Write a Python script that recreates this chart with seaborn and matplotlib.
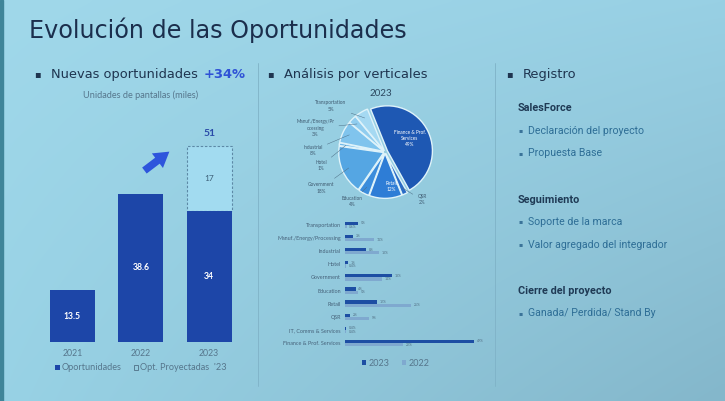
import numpy as np
import pandas as pd
import matplotlib
matplotlib.use("Agg")
import matplotlib.pyplot as plt
import seaborn as sns
from matplotlib.patches import Patch, Rectangle

# ---------------- data ----------------
years = ["2021", "2022", "2023"]
oportunidades = [13.5, 38.6, 34]
proyectadas = [0, 0, 17]

pie_labels = ["Finance & Prof.\nServices", "QSR", "Retail", "Education", "Government",
              "Hotel", "Industrial", "Manuf./Energy/Pr\nocessing", "Transportation"]
pie_share = [49, 2, 12, 4, 18, 1, 8, 3, 5]

verticals = ["Transportation", "Manuf./Energy/Processing", "Industrial", "Hotel",
             "Government", "Education", "Retail", "QSR", "IT, Comms & Services",
             "Finance & Prof. Services"]
share_2023 = [5, 3, 8, 1, 18, 4, 12, 2, 0.4, 49]
share_2022 = [0.6, 11, 13, 0.4, 14, 5, 25, 9, 0.4, 22]

registro = [
    ("SalesForce", ["Declaración del proyecto", "Propuesta Base"]),
    ("Seguimiento", ["Soporte de la marca", "Valor agregado del integrador"]),
    ("Cierre del proyecto", ["Ganada/ Perdida/ Stand By"]),
]

# ---------------- style ----------------
sns.set_theme(style="white")
plt.rcParams["font.family"] = ["Lato", "DejaVu Sans"]
HEAD_FONT = ["DejaVu Sans"]
BODY_FONT = ["Roboto", "DejaVu Sans"]

W, H = 725, 401
fig = plt.figure(figsize=(W / 100, H / 100), dpi=100)


def fx(x):
    return x / W


def fy(y):
    return 1 - y / H


def axes_px(left, top, right, bottom):
    return fig.add_axes([left / W, 1 - bottom / H, (right - left) / W, (bottom - top) / H])


# soft slide background
bg = fig.add_axes([0, 0, 1, 1], zorder=-10)
tl, tr = np.array([160, 216, 234]), np.array([152, 208, 228])
bl, br = np.array([152, 210, 229]), np.array([132, 183, 203])
u = np.linspace(0, 1, 200)[None, :, None]
v = np.linspace(0, 1, 120)[:, None, None]
grad = (tl * (1 - u) * (1 - v) + tr * u * (1 - v) + bl * (1 - u) * v + br * u * v) / 255
bg.imshow(grad, aspect="auto", extent=[0, 1, 0, 1], interpolation="bicubic")
bg.add_patch(Rectangle((0, 0), 3 / W, 1, color="#3f8599"))
bg.set_xlim(0, 1)
bg.set_ylim(0, 1)
bg.axis("off")

DARK = "#1d46a8"
TXT = "#1f3550"
GREY = "#56768c"
C2023 = "#1d4ea3"
C2022 = "#7fa9cf"

# title and section headers
fig.text(fx(29), fy(38), "Evolución de las Oportunidades", fontsize=17.2,
         color="#1b2e4c", va="baseline", family=HEAD_FONT)
for bx, label in [(37, "Nuevas oportunidades"), (270, "Análisis por verticales"), (509, "Registro")]:
    fig.text(fx(bx), fy(74), "▪", fontsize=7, color=TXT, va="center", ha="center",
             family=["DejaVu Sans"])
    fig.text(fx(bx + 14), fy(78), label, fontsize=9.4, color=TXT, va="baseline",
             family=HEAD_FONT)
fig.text(fx(204), fy(78), "+34%", fontsize=9.4, color="#2f52d6", va="baseline",
         weight="bold", family=HEAD_FONT)
fig.text(fx(141), fy(95), "Unidades de pantallas (miles)", fontsize=6.6, color=GREY,
         ha="center", va="center")

# column separators
for sx in (258, 495):
    bg.plot([fx(sx), fx(sx)], [fy(63), fy(386)], color="#7fb2c7", lw=0.6)

# ---------------- yearly opportunities ----------------
ax1 = axes_px(38, 120, 244, 342)
df_years = pd.DataFrame({"year": years, "oportunidades": oportunidades})
sns.barplot(data=df_years, x="year", y="oportunidades", color=DARK, width=0.66,
            saturation=1, linewidth=0, ax=ax1, zorder=3)
proj_idx = [i for i, p in enumerate(proyectadas) if p > 0]
ax1.bar(proj_idx, [proyectadas[i] for i in proj_idx],
        bottom=[oportunidades[i] for i in proj_idx], width=0.66, color="#a2dbf0",
        edgecolor="#5d89a6", linestyle=(0, (2.2, 1.6)), linewidth=0.8, zorder=2)
ax1.set_xlim(-0.505, 2.51)
ax1.set_ylim(0, 57.8)
ax1.axhline(0, color="#86b3c8", lw=0.6, zorder=1)
for i, val in enumerate(oportunidades):
    ax1.text(i, val / 2, f"{val:g}", ha="center", va="center", color="white",
             fontsize=6.2, weight="bold", zorder=4)
for i in proj_idx:
    total = oportunidades[i] + proyectadas[i]
    ax1.text(i, oportunidades[i] + proyectadas[i] / 2, f"{proyectadas[i]:g}",
             ha="center", va="center", color="#3d6078", fontsize=6, zorder=4)
    ax1.text(i, total + 3.4, f"{total:g}", ha="center", va="center", color="#2a4aa8",
             fontsize=7.5, weight="bold", zorder=4)
    # growth arrow
    ax1.annotate("", xy=(i - 0.55, total - 1.0), xytext=(i - 0.98, total - 6.8),
                 arrowprops=dict(arrowstyle="simple,head_length=0.9,head_width=1.1,tail_width=0.45",
                                 color="#2e55dc", lw=0))
ax1.set_xlabel("")
ax1.set_ylabel("")
ax1.set_yticks([])
ax1.tick_params(axis="x", length=0, pad=5, labelsize=6.3, labelcolor=GREY)
ax1.set_facecolor("none")
sns.despine(ax=ax1, left=True, bottom=True)
fig.legend(handles=[Patch(facecolor=DARK, edgecolor="none"),
                    Patch(facecolor="none", edgecolor="#4f6f86", linewidth=0.6)],
           labels=["Oportunidades", "Opt. Proyectadas  '23"], ncol=2, frameon=False,
           loc="center", bbox_to_anchor=(fx(141), fy(368)), fontsize=6.6,
           labelcolor=GREY, handlelength=0.5, handleheight=0.5, handletextpad=0.25,
           columnspacing=1.3)

# ---------------- pie 2023 ----------------
ax2 = axes_px(305, 87, 465, 217)
pie_colors = ["#1e58b3", "#2a6cc6", "#2e7dd6", "#3b8ddc", "#55a6e3",
              "#6fb9ea", "#80c4ed", "#90cdef", "#a5d9f2"]
explode = [0.06] + [0.03] * (len(pie_share) - 1)
wedges, _ = ax2.pie(pie_share, colors=pie_colors, startangle=112, counterclock=False,
                    explode=explode, wedgeprops=dict(edgecolor="#dff3fa", linewidth=1.0))
ax2.set_aspect("auto")
ax2.set_xlim(-1.778, 1.778)
ax2.set_ylim(-1.444, 1.444)
ax2.axis("off")
label_pos = [(0.55, 0.3), (0.82, -1.06), (0.14, -0.76), (-0.73, -1.1), (-1.42, -0.8),
             (-1.42, -0.3), (-1.6, 0.04), (-1.55, 0.53), (-1.2, 1.02)]
inside = {0, 2}
for k, (w, lab, val, pos) in enumerate(zip(wedges, pie_labels, pie_share, label_pos)):
    text = f"{lab}\n{val}%"
    if k in inside:
        ax2.text(*pos, text, ha="center", va="center", fontsize=3.4, color="white",
                 linespacing=1.3, zorder=5)
    else:
        ang = np.deg2rad((w.theta1 + w.theta2) / 2)
        cx, cy = w.center
        ax2.annotate(text, xy=(cx + 0.85 * np.cos(ang), cy + 0.85 * np.sin(ang)),
                     xytext=pos, ha="center", va="center", fontsize=3.4, color="#3f5a70",
                     linespacing=1.3,
                     arrowprops=dict(arrowstyle="-", color="#4f7088", lw=0.35,
                                     shrinkA=1, shrinkB=0))
fig.text(fx(381), fy(93), "2023", fontsize=7, color="#2c4860", ha="center", va="center")

# ---------------- share by vertical ----------------
ax3 = axes_px(345, 218.4, 490, 349.6)
df_v = pd.DataFrame({
    "vertical": verticals * 2,
    "year": ["2023"] * len(verticals) + ["2022"] * len(verticals),
    "share": share_2023 + share_2022,
})
sns.barplot(data=df_v, y="vertical", x="share", hue="year", hue_order=["2023", "2022"],
            palette=[C2023, C2022], width=0.5, saturation=1, orient="h",
            linewidth=0, legend=False, ax=ax3)
ax3.set_xlim(0, 55.1)
ax3.set_ylim(9.5, -0.5)
for cont in ax3.containers:
    vals = cont.datavalues
    ax3.bar_label(cont, labels=[f"{x:g}%" for x in vals], fontsize=2.4, padding=2,
                  color="#4e6b80")
ax3.set_xlabel("")
ax3.set_ylabel("")
ax3.set_xticks([])
ax3.tick_params(axis="y", length=0, pad=3, labelsize=3.9, labelcolor="#46627a")
ax3.set_facecolor("none")
sns.despine(ax=ax3, left=True, bottom=True)
fig.legend(handles=[Patch(facecolor=C2023, edgecolor="none"),
                    Patch(facecolor=C2022, edgecolor="none")],
           labels=["2023", "2022"], ncol=2, frameon=False, loc="center",
           bbox_to_anchor=(fx(396), fy(363)), fontsize=6.5, labelcolor=GREY,
           handlelength=0.45, handleheight=0.45, handletextpad=0.25, columnspacing=1.4)

# ---------------- registro ----------------
y = 108
for head, items in registro:
    fig.text(fx(518), fy(y), head, fontsize=7.8, weight="bold", color="#1f3a55",
             va="center", family=BODY_FONT)
    y += 22.5
    for it in items:
        fig.text(fx(521), fy(y), "▪", fontsize=4.5, color="#3a7399", va="center",
                 ha="center", family=["DejaVu Sans"])
        fig.text(fx(528), fy(y), it, fontsize=7.6, color="#2e6e96", va="center",
                 family=BODY_FONT)
        y += 23
    y += 23

fig.savefig("out.png", dpi=100)
